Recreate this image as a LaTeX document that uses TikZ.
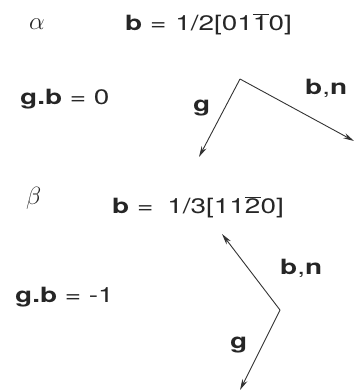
\documentclass[tikz,border=0pt]{standalone}
\usepackage{fontspec}
\setsansfont[FakeStretch=1.33]{TeX Gyre Heros}
\usetikzlibrary{arrows.meta}
\tikzset{
  lbl/.style={font=\sffamily\fontsize{21}{22}\selectfont, text=black!85, inner sep=0pt, anchor=base west},
  greek/.style={font=\fontsize{25}{26}\selectfont, text=black!85, inner sep=0pt, anchor=base west},
  vec/.style={draw=black!80, line width=0.9pt, -{Stealth[length=11pt,width=5.5pt]}},
}
\begin{document}
\begin{tikzpicture}[x=1pt,y=-1pt]
\useasboundingbox (0,0) rectangle (364,391);
% alpha section
\node[greek] (alpha) at (29,29) {$\alpha$};
\node[lbl] (balpha) at (125,30) {\textbf{b} =\hspace{9pt}1/2[01$\overline{\mbox{1}}$0]};
\node[lbl] (gb0) at (20,104) {\textbf{g.b} = 0};
\node[lbl] (ga) at (193,111) {\textbf{g}};
\node[lbl] (bna) at (305,94) {\textbf{b},\textbf{n}};
\coordinate (va) at (240,79);
\coordinate (gta) at (199,157);
\coordinate (bta) at (354,141);
\draw[vec] (va) -- (gta);
\draw[vec] (va) -- (bta);
% beta section
\node[greek] (beta) at (26,204) {$\beta$};
\node[lbl] (bbeta) at (112,213) {\textbf{b} =\hspace{14pt}1/3[11$\overline{\mbox{2}}$0]};
\node[lbl] (gbm1) at (15,302) {\textbf{g.b} = -1};
\node[lbl] (bnb) at (280,274) {\textbf{b},\textbf{n}};
\node[lbl] (gb) at (230,348) {\textbf{g}};
\coordinate (vb) at (280,310);
\coordinate (bt) at (222,234);
\coordinate (gt) at (240,390);
\draw[vec] (vb) -- (bt);
\draw[vec] (vb) -- (gt);
\end{tikzpicture}
\end{document}
